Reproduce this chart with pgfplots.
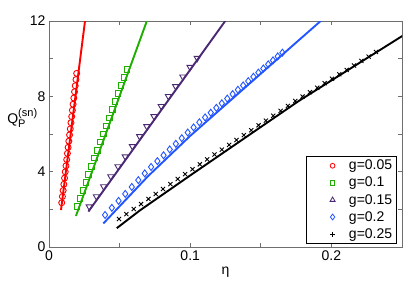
\documentclass[border=0pt]{standalone}
\usepackage{pgfplots}
\pgfplotsset{compat=1.18}
\usepackage{fontspec}
\setmainfont{Liberation Sans}
\usetikzlibrary{calc}
\definecolor{cR}{RGB}{255,0,0}
\definecolor{cG}{RGB}{30,175,0}
\definecolor{cP}{RGB}{75,40,115}
\definecolor{cB}{RGB}{35,85,255}
\definecolor{axgray}{RGB}{110,110,110}
\begin{document}
\begin{tikzpicture}
\begin{axis}[
  scale only axis, width=353pt, height=226pt,
  xmin=0, xmax=0.25, ymin=0, ymax=12,
  xtick={0,0.05,0.1,0.15,0.2,0.25}, xticklabels={0,,0.1,,0.2,},
  ytick={0,2,4,6,8,10,12}, yticklabels={0,,4,,8,,12},
  tick align=inside, major tick length=4pt,
  axis line style={axgray, line width=0.7pt}, tick style={axgray, line width=0.6pt},
  font=\fontsize{14}{16}\selectfont,
  ticklabel style={font=\fontsize{14}{16}\selectfont},
  xlabel={η}, ylabel={Q$_{\mbox{\fontsize{11}{12}\selectfont P}}^{\mbox{\fontsize{11}{12}\selectfont (sn)}}$},
  xlabel style={at={(axis description cs:0.5,-0.11)}, anchor=center},
  ylabel style={rotate=-90, at={(axis description cs:-0.075,0.57)}, anchor=center},
  legend style={at={(axis description cs:1,0)}, anchor=south east, xshift=-5pt, yshift=3pt,
    draw=black, line width=0.6pt, inner xsep=3pt, inner ysep=2.5pt,
    font=\fontsize{14}{16}\selectfont, nodes={inner sep=1.5pt}, column sep=7.5pt, row sep=2.8pt},
  legend cell align=left,
  legend image code/.code={\path (0pt,0pt) (30pt,0pt); \draw[#1] plot coordinates {(23pt,0pt)};},
]
% markers
\addplot[forget plot, only marks, cR, mark=o, mark size=3pt, line width=0.9pt] coordinates {
(0.0090,2.35)(0.00950,2.68)(0.01001,3.00)(0.01051,3.33)(0.01102,3.66)(0.01152,3.99)
(0.01203,4.31)(0.01253,4.64)(0.01304,4.97)(0.01354,5.29)(0.01405,5.62)(0.01455,5.95)
(0.01506,6.27)(0.01556,6.60)(0.01607,6.93)(0.01657,7.26)(0.01708,7.58)(0.01758,7.91)
(0.01809,8.24)(0.01859,8.56)(0.01910,8.89)(0.01960,9.22)};
\addplot[forget plot, only marks, cG, mark=square, mark size=2.8pt, line width=0.9pt] coordinates {
(0.0198,2.14)(0.02188,2.57)(0.02396,3.00)(0.02604,3.43)(0.02812,3.86)(0.0302,4.29)
(0.03228,4.72)(0.03436,5.14)(0.03644,5.57)(0.03852,6.00)(0.0406,6.43)(0.04268,6.86)
(0.04476,7.29)(0.04684,7.72)(0.04892,8.14)(0.051,8.57)(0.05308,9.00)(0.05516,9.43)};
\addplot[forget plot, only marks, cP, mark=triangle, mark size=3.6pt, mark options={rotate=180}, line width=0.9pt] coordinates {
(0.0285,2.14)(0.0336,2.68)(0.0387,3.21)(0.0438,3.74)(0.0489,4.27)(0.0540,4.80)
(0.0591,5.34)(0.0642,5.87)(0.0693,6.40)(0.0744,6.93)(0.0795,7.47)(0.0846,8.00)
(0.0897,8.53)(0.0948,9.04)(0.0999,9.55)(0.1050,10.03)};
\addplot[forget plot, only marks, cB, mark=diamond, mark size=3.5pt, line width=0.9pt] coordinates {
(0.0397,1.70)(0.0445,2.08)(0.04925,2.45)(0.0540,2.82)(0.05865,3.19)(0.06325,3.55)
(0.0678,3.91)(0.0723,4.25)(0.07675,4.56)(0.08115,4.87)(0.0855,5.18)(0.0898,5.48)
(0.09405,5.78)(0.09825,6.08)(0.1024,6.35)(0.1065,6.62)(0.11055,6.88)(0.11455,7.13)
(0.1185,7.39)(0.1224,7.63)(0.12625,7.88)(0.13005,8.12)(0.1338,8.35)(0.1375,8.58)
(0.14115,8.81)(0.14475,9.04)(0.1483,9.26)(0.1518,9.48)(0.15525,9.70)(0.15865,9.91)
(0.162,10.12)(0.1653,10.32)};
\addplot[forget plot, only marks, black, mark=x, mark size=2.9pt, line width=0.9pt] coordinates {
(0.0496,1.49)(0.0548,1.75)(0.0600,2.02)(0.0652,2.28)(0.0704,2.55)(0.0756,2.81)
(0.0808,3.08)(0.0860,3.34)(0.0912,3.61)(0.0964,3.87)(0.1016,4.13)(0.1068,4.39)
(0.1120,4.65)(0.1172,4.91)(0.1224,5.17)(0.1276,5.42)(0.1328,5.68)(0.1380,5.94)
(0.1432,6.20)(0.1484,6.46)(0.1536,6.71)(0.1588,6.97)(0.1640,7.23)(0.1692,7.49)
(0.1744,7.75)(0.1796,7.99)(0.1848,8.22)(0.1900,8.46)(0.1952,8.70)(0.2004,8.93)
(0.2056,9.17)(0.2108,9.40)(0.2160,9.64)(0.2212,9.88)(0.2264,10.11)(0.2316,10.35)};
% lines
\addplot[forget plot, cR, line width=1.9pt] coordinates {(0.0085,1.96)(0.02635,12.5)};
\addplot[forget plot, cG, line width=1.9pt] coordinates {(0.0191,1.65)(0.07173,12.5)};
\addplot[forget plot, cP, line width=1.9pt] coordinates {(0.0279,1.88)(0.12959,12.5)};
\addplot[forget plot, cB, line width=1.9pt] coordinates {(0.0385,1.25)(0.07,3.75)(0.1,5.9)(0.1757,10.9)(0.2,12.5)};
\addplot[forget plot, black, line width=1.9pt] coordinates {(0.048,1.0)(0.0645,1.95)(0.1,3.8)(0.1768,7.75)(0.255,11.43)};
% legend
\addlegendimage{only marks, cR, mark=o, mark size=2.4pt, line width=0.8pt}
\addlegendentry{g=0.05}
\addlegendimage{only marks, cG, mark=square, mark size=2.1pt, line width=0.8pt}
\addlegendentry{g=0.1}
\addlegendimage{only marks, cP, mark=triangle, mark size=2.9pt, line width=0.8pt}
\addlegendentry{g=0.15}
\addlegendimage{only marks, cB, mark=diamond, mark size=2.9pt, line width=0.8pt}
\addlegendentry{g=0.2}
\addlegendimage{only marks, black, mark=+, mark size=2.5pt, line width=0.8pt}
\addlegendentry{g=0.25}
\end{axis}
\pgfresetboundingbox
\path ($(current axis.south west)+(-49pt,-38pt)$) rectangle ($(current axis.north east)+(13pt,21pt)$);
\end{tikzpicture}
\end{document}
